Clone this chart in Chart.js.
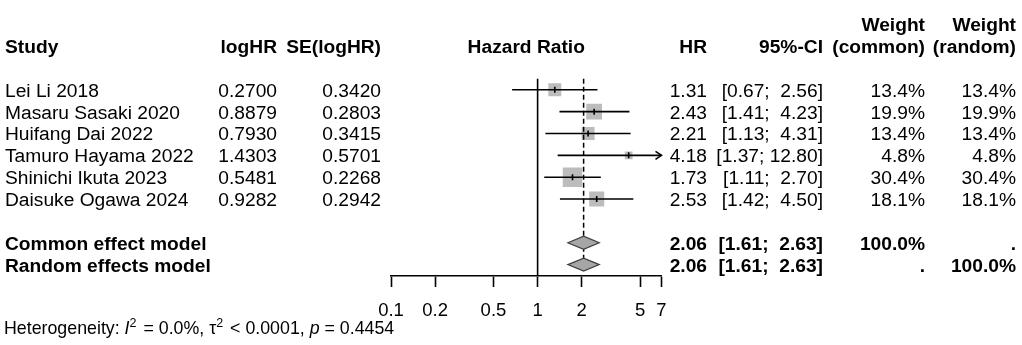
<!DOCTYPE html>
<html>
<head>
<meta charset="utf-8">
<script src="https://cdn.jsdelivr.net/npm/chart.js@4/dist/chart.umd.min.js"></script>
<style>
  html, body { margin: 0; padding: 0; background: #fff; }
  #wrap { position: relative; width: 1022px; height: 345px; }
</style>
</head>
<body>
<div id="wrap"><canvas id="forestChart"></canvas></div>
<script>
// study level data
const studies = ['Lei Li 2018', 'Masaru Sasaki 2020', 'Huifang Dai 2022', 'Tamuro Hayama 2022', 'Shinichi Ikuta 2023', 'Daisuke Ogawa 2024'];
const logHR = [0.2700, 0.8879, 0.7930, 1.4303, 0.5481, 0.9282];
const seLogHR = [0.3420, 0.2803, 0.3415, 0.5701, 0.2268, 0.2942];
const hr = [1.31, 2.43, 2.21, 4.18, 1.73, 2.53];
const ciLower = [0.67, 1.41, 1.13, 1.37, 1.11, 1.42];
const ciUpper = [2.56, 4.23, 4.31, 12.80, 2.70, 4.50];
const weightCommon = [13.4, 19.9, 13.4, 4.8, 30.4, 18.1];
const weightRandom = [13.4, 19.9, 13.4, 4.8, 30.4, 18.1];

// pooled estimates
const models = ['Common effect model', 'Random effects model'];
const modelHR = [2.06, 2.06];
const modelLower = [1.61, 1.61];
const modelUpper = [2.63, 2.63];
const modelWeightCommon = ['100.0%', '.'];
const modelWeightRandom = ['.', '100.0%'];

// axis
const xTicks = [0.1, 0.2, 0.5, 1, 2, 5, 7];
const xMin = 0.1;
const xMax = 7;

// row layout (row 0 = header, studies from row 2, models from row 9)
const firstStudyRow = 2;
const firstModelRow = 9;
const rowTop = -34 / 23;
const rowBottom = (276 - 34) / 23;

const FONT = '"Liberation Sans", Arial, Helvetica, sans-serif';
const FONT_SIZE = 19.2;
const TICK_SIZE = 18.5;
const HET_SIZE = 17.8;
const LINE_W = 1.6;
const boxScale = 2.5;    // square radius per sqrt(weight)
const diamondHalf = 6.5; // px

function fmtCI(lo, up) {
    return '[' + lo.toFixed(2) + '; ' + up.toFixed(2).padStart(5, ' ') + ']';
}

const colX = { study: 5, logHR: 277, se: 381, hr: 707, ci: 823, wCommon: 925, wRandom: 1016 };

const forestTextPlugin = {
    id: 'forestText',
    afterDatasetsDraw(chart) {
        const { ctx, scales: { x, y } } = chart;
        ctx.save();
        // diamonds for pooled estimates
        models.forEach((m, i) => {
            const py = y.getPixelForValue(firstModelRow + i);
            const l = x.getPixelForValue(modelLower[i]);
            const c = x.getPixelForValue(modelHR[i]);
            const r = x.getPixelForValue(modelUpper[i]);
            ctx.beginPath();
            ctx.moveTo(l, py);
            ctx.lineTo(c, py - diamondHalf);
            ctx.lineTo(r, py);
            ctx.lineTo(c, py + diamondHalf);
            ctx.closePath();
            ctx.fillStyle = '#a6a6a6';
            ctx.fill();
            ctx.strokeStyle = '#404040';
            ctx.lineWidth = 1.3;
            ctx.stroke();
        });
        // arrows where CI runs past the axis
        studies.forEach((s, i) => {
            if (ciUpper[i] > xMax) {
                const py = y.getPixelForValue(firstStudyRow + i);
                const px = x.getPixelForValue(xMax);
                ctx.beginPath();
                ctx.moveTo(px - 6, py - 4);
                ctx.lineTo(px, py);
                ctx.lineTo(px - 6, py + 4);
                ctx.strokeStyle = '#000';
                ctx.lineWidth = LINE_W;
                ctx.stroke();
            }
        });
        ctx.restore();
    },
    afterDraw(chart) {
        const { ctx, scales: { x, y } } = chart;
        const base = row => y.getPixelForValue(row) + 7;
        function txt(s, px, row, align, bold) {
            ctx.font = (bold ? 'bold ' : '') + FONT_SIZE + 'px ' + FONT;
            ctx.textAlign = align;
            ctx.fillText(s, px, base(row));
        }
        ctx.save();
        ctx.fillStyle = '#000';
        ctx.textBaseline = 'alphabetic';

        // header
        txt('Study', colX.study, 0, 'left', true);
        txt('logHR', colX.logHR, 0, 'right', true);
        txt('SE(logHR)', colX.se, 0, 'right', true);
        txt('Hazard Ratio', (chart.chartArea.left + chart.chartArea.right) / 2, 0, 'center', true);
        txt('HR', colX.hr, 0, 'right', true);
        txt('95%-CI', colX.ci, 0, 'right', true);
        txt('Weight', colX.wCommon, -1, 'right', true);
        txt('(common)', colX.wCommon, 0, 'right', true);
        txt('Weight', colX.wRandom, -1, 'right', true);
        txt('(random)', colX.wRandom, 0, 'right', true);

        // studies
        studies.forEach((s, i) => {
            const r = firstStudyRow + i;
            txt(s, colX.study, r, 'left', false);
            txt(logHR[i].toFixed(4), colX.logHR, r, 'right', false);
            txt(seLogHR[i].toFixed(4), colX.se, r, 'right', false);
            txt(hr[i].toFixed(2), colX.hr, r, 'right', false);
            txt(fmtCI(ciLower[i], ciUpper[i]), colX.ci, r, 'right', false);
            txt(weightCommon[i].toFixed(1) + '%', colX.wCommon, r, 'right', false);
            txt(weightRandom[i].toFixed(1) + '%', colX.wRandom, r, 'right', false);
        });

        // pooled
        models.forEach((m, i) => {
            const r = firstModelRow + i;
            txt(m, colX.study, r, 'left', true);
            txt(modelHR[i].toFixed(2), colX.hr, r, 'right', true);
            txt(fmtCI(modelLower[i], modelUpper[i]), colX.ci, r, 'right', true);
            txt(modelWeightCommon[i], colX.wCommon, r, 'right', true);
            txt(modelWeightRandom[i], colX.wRandom, r, 'right', true);
        });

        // heterogeneity line with italic / superscript pieces
        const hetParts = [
            { t: 'Heterogeneity: ', s: '' },
            { t: 'I', s: 'italic ' },
            { t: '2', s: '', sup: true },
            { t: ' = 0.0%, ', s: '' },
            { t: '\u03c4', s: '' },
            { t: '2', s: '', sup: true },
            { t: ' < 0.0001, ', s: '' },
            { t: 'p', s: 'italic ' },
            { t: ' = 0.4454', s: '' }
        ];
        let hx = colX.study - 1;
        const hy = base(13) - 3;
        ctx.textAlign = 'left';
        hetParts.forEach(p => {
            const size = p.sup ? 12.5 : HET_SIZE;
            ctx.font = p.s + size + 'px ' + FONT;
            ctx.fillText(p.t, hx, p.sup ? hy - 7.5 : hy);
            hx += ctx.measureText(p.t).width + (p.sup ? 2 : 0);
        });
        ctx.restore();
    }
};

const squareData = hr.map((v, i) => ({ x: v, y: firstStudyRow + i }));
const ciDatasets = studies.map((s, i) => ({
    label: s,
    showLine: true,
    data: [
        { x: Math.max(ciLower[i], xMin), y: firstStudyRow + i },
        { x: Math.min(ciUpper[i], xMax), y: firstStudyRow + i }
    ],
    borderColor: '#000',
    borderWidth: LINE_W,
    pointRadius: 0,
    order: 2
}));

const ctx = document.getElementById('forestChart').getContext('2d');
const forestChart = new Chart(ctx, {
    type: 'scatter',
    data: {
        datasets: [
            {
                label: 'estimate',
                data: squareData,
                pointStyle: 'line',
                rotation: 90,
                pointRadius: 3,
                borderColor: '#000',
                borderWidth: LINE_W,
                order: 1
            },
            ...ciDatasets,
            {
                label: 'null line',
                showLine: true,
                data: [{ x: 1, y: 1.5 }, { x: 1, y: rowBottom }],
                borderColor: '#000',
                borderWidth: LINE_W,
                pointRadius: 0,
                order: 3
            },
            {
                label: 'pooled line',
                showLine: true,
                data: [{ x: modelHR[0], y: 1.5 }, { x: modelHR[0], y: firstModelRow + 1 - diamondHalf / 23 }],
                borderColor: '#000',
                borderWidth: 1.5,
                borderDash: [5, 3],
                pointRadius: 0,
                order: 3
            },
            {
                label: 'weights',
                data: squareData,
                pointStyle: 'rect',
                pointRadius: weightCommon.map(w => boxScale * Math.sqrt(w)),
                backgroundColor: '#bcbcbc',
                borderWidth: 0,
                order: 4
            }
        ]
    },
    options: {
        responsive: true,
        maintainAspectRatio: false,
        animation: false,
        events: [],
        layout: { padding: { left: 391, right: 360.5, top: 0, bottom: 0 } },
        plugins: {
            legend: { display: false },
            tooltip: { enabled: false }
        },
        scales: {
            x: {
                type: 'logarithmic',
                min: xMin,
                max: xMax,
                afterBuildTicks: scale => {
                    scale.ticks = xTicks.map(v => ({ value: v }));
                },
                afterFit: scale => {
                    scale.height = 69;
                },
                ticks: {
                    callback: v => String(v),
                    autoSkip: false,
                    maxRotation: 0,
                    color: '#000',
                    padding: 13,
                    font: { family: FONT, size: TICK_SIZE }
                },
                grid: {
                    drawOnChartArea: false,
                    drawTicks: true,
                    tickLength: 11,
                    tickColor: '#000',
                    tickWidth: LINE_W
                },
                border: { display: true, color: '#000', width: LINE_W }
            },
            y: {
                type: 'linear',
                display: false,
                reverse: true,
                min: rowTop,
                max: rowBottom
            }
        }
    },
    plugins: [forestTextPlugin]
});
</script>
</body>
</html>
